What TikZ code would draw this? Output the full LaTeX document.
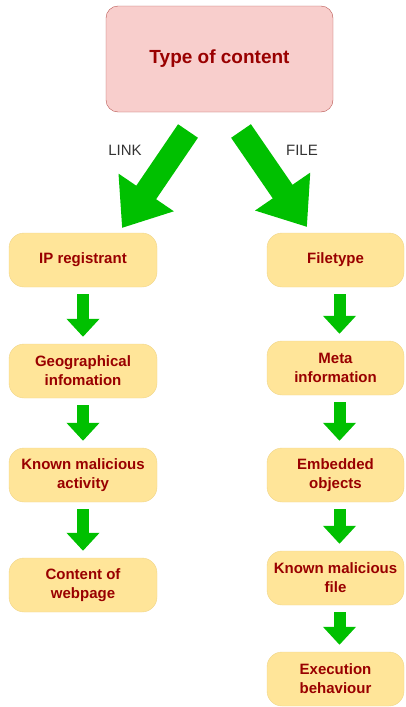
\documentclass[tikz,border=0pt]{standalone}
\usepackage{fontspec}
\setmainfont{Liberation Sans}
\usetikzlibrary{arrows.meta}

\definecolor{boxfill}{HTML}{FFE599}
\definecolor{boxline}{HTML}{F0D58A}
\definecolor{topfill}{HTML}{F8CECC}
\definecolor{topline}{HTML}{B85450}
\definecolor{boxtext}{HTML}{990000}
\definecolor{flowgreen}{HTML}{00C000}

\begin{document}
\begin{tikzpicture}[x=1pt, y=-1pt,
    every node/.style={text=boxtext, align=center, font=\bfseries\fontsize{15}{19}\selectfont},
    stepbox/.style={draw=boxline, fill=boxfill, rounded corners=15pt, minimum height=54pt, inner sep=2pt},
    leftbox/.style={stepbox, minimum width=148pt},
    rightbox/.style={stepbox, minimum width=137pt},
    topbox/.style={draw=topline, fill=topfill, rounded corners=12pt, minimum width=227pt, minimum height=106pt,
      font=\bfseries\fontsize{19}{23}\selectfont},
    branch/.style={text=black!80, font=\fontsize{15}{18}\selectfont},
    bigflow/.style={flowgreen, line width=24pt, -{Triangle[width=64pt, length=43pt]}},
    smallflow/.style={flowgreen, line width=12pt, -{Triangle[width=32pt, length=18pt]},
      shorten <=7pt, shorten >=7pt},
    ]
  \useasboundingbox (0,0) rectangle (405,707);

  \node[topbox] (type) at (219.5,59) {Type of content};

  % link side
  \node[leftbox] (ip) at (83,260) {IP registrant};
  \node[leftbox] (geo) at (83,371) {Geographical\\infomation};
  \node[leftbox] (activity) at (83,475) {Known malicious\\activity};
  \node[leftbox] (webpage) at (83,585) {Content of\\webpage};

  % file side
  \node[rightbox] (filetype) at (335.5,260) {Filetype};
  \node[rightbox] (meta) at (335.5,368) {Meta\\information};
  \node[rightbox] (embedded) at (335.5,475) {Embedded\\objects};
  \node[rightbox] (malfile) at (335.5,578) {Known malicious\\file};
  \node[rightbox] (execution) at (335.5,679) {Execution\\behaviour};

  \coordinate (linkstart) at (188,131);
  \coordinate (linkend) at (122,228);
  \coordinate (filestart) at (241,131);
  \coordinate (fileend) at (307,227);

  \draw[bigflow] (linkstart) -- (linkend);
  \draw[bigflow] (filestart) -- (fileend);
  \node[branch] (link) at (125,150) {LINK};
  \node[branch] (file) at (302,150) {FILE};

  \draw[smallflow] (ip) -- (geo);
  \draw[smallflow] (geo) -- (activity);
  \draw[smallflow] (activity) -- (webpage);

  \draw[smallflow] ([xshift=4pt]filetype.south) -- ([xshift=4pt]meta.north);
  \draw[smallflow] ([xshift=4pt]meta.south) -- ([xshift=4pt]embedded.north);
  \draw[smallflow] ([xshift=4pt]embedded.south) -- ([xshift=4pt]malfile.north);
  \draw[smallflow] ([xshift=4pt]malfile.south) -- ([xshift=4pt]execution.north);
\end{tikzpicture}
\end{document}
